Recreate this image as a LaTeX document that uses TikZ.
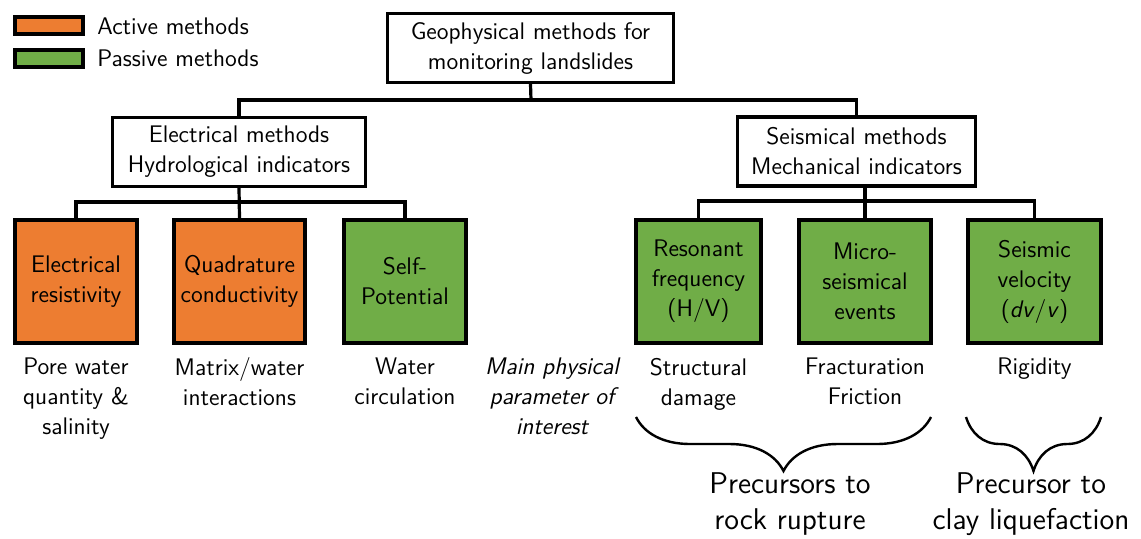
\documentclass[tikz,border=0pt]{standalone}
\usepackage{tikz}
\usetikzlibrary{calc,decorations.pathreplacing}
\definecolor{actv}{HTML}{ED7D31}
\definecolor{pasv}{HTML}{70AD47}

\begin{document}
\begin{tikzpicture}[x=0.5pt,y=-0.5pt,
    every node/.style={font=\sffamily\fontsize{12}{15}\selectfont, align=center},
    head/.style={draw, line width=1.6pt, minimum height=34.5pt, inner sep=0pt},
    meth/.style={draw, line width=2.2pt, minimum height=61.5pt, inner sep=0pt},
    act/.style={meth, fill=actv},
    pas/.style={meth, fill=pasv},
    key/.style={draw, line width=2pt, minimum width=34pt, minimum height=8.5pt, inner sep=0pt},
    param/.style={anchor=north, inner sep=0pt},
    note/.style={param, font=\sffamily\itshape\fontsize{12}{15}\selectfont},
    link/.style={line width=1.6pt},
    curly/.style={line width=1.2pt, decorate, decoration={brace, mirror, amplitude=27pt}},
    big/.style={font=\sffamily\fontsize{15}{18}\selectfont}]
    \useasboundingbox (0,0) rectangle (1141,538);
    % legend
    \node[key, fill=actv] (keyact) at (48.5,25) {};
    \node[key, fill=pasv] (keypas) at (48.5,58) {};
    \node[anchor=base west, inner sep=0pt] (txtact) at (97,34) {Active methods};
    \node[anchor=base west, inner sep=0pt] (txtpas) at (97,66) {Passive methods};
    % tree
    \node[head, minimum width=143pt] (geo) at (530.5,48) {Geophysical methods for\\monitoring landslides};
    \node[head, minimum width=126.5pt] (elec) at (239,152) {Electrical methods\\Hydrological indicators};
    \node[head, minimum width=119pt] (seis) at (856.5,151.5) {Seismical methods\\Mechanical indicators};
    \node[act, minimum width=61pt] (eres) at (76,281.5) {Electrical\\resistivity};
    \node[act, minimum width=65.5pt] (quad) at (239.5,281.5) {Quadrature\\conductivity};
    \node[pas, minimum width=61pt] (selfp) at (405,281.5) {Self-\\Potential};
    \node[pas, minimum width=62.5pt] (reso) at (698.5,281.5) {Resonant\\frequency\\(H/V)};
    \node[pas, minimum width=66pt] (micro) at (865,281.5) {Micro-\\seismical\\events};
    \node[pas, minimum width=66.5pt] (svel) at (1034.5,281.5) {Seismic\\velocity\\(\textit{dv}/\textit{v})};
    \coordinate (topbus) at (531,100);
    \coordinate (ebus) at (239.5,202);
    \coordinate (sbus) at (865,201);
    \draw[link] (geo.south) -- (topbus);
    \draw[link] (elec.north) |- (topbus) -| (seis.north);
    \draw[link] (elec.south) -- (quad.north);
    \draw[link] (eres.north) |- (ebus) -| (selfp.north);
    \draw[link] (seis.south -| micro.north) -- (micro.north);
    \draw[link] (reso.north) |- (sbus) -| (svel.north);
    % parameters
    \node[param] (pw) at (76,357.5) {Pore water\\quantity \&\\salinity};
    \node[param] (mw) at (239.5,357.5) {Matrix/water\\interactions};
    \node[param] (wc) at (405,357.5) {Water\\circulation};
    \node[note] (mpp) at (552,357.5) {Main physical\\parameter of\\interest};
    \node[param] (sd) at (698.5,357.5) {Structural\\damage};
    \node[param] (ff) at (865,357.5) {Fracturation\\Friction};
    \node[param] (rig) at (1034.5,357.5) {Rigidity};
    % braces
    \coordinate (b1) at (636,417); \coordinate (b2) at (931,417);
    \coordinate (b3) at (966,417); \coordinate (b4) at (1101,417);
    \draw[curly] (b1) -- (b2);
    \draw[curly] (b3) -- (b4);
    \node[big] (rock) at (790,504) {Precursors to\\rock rupture};
    \node[big] (clay) at (1031,504) {Precursor to\\clay liquefaction};
\end{tikzpicture}
\end{document}
